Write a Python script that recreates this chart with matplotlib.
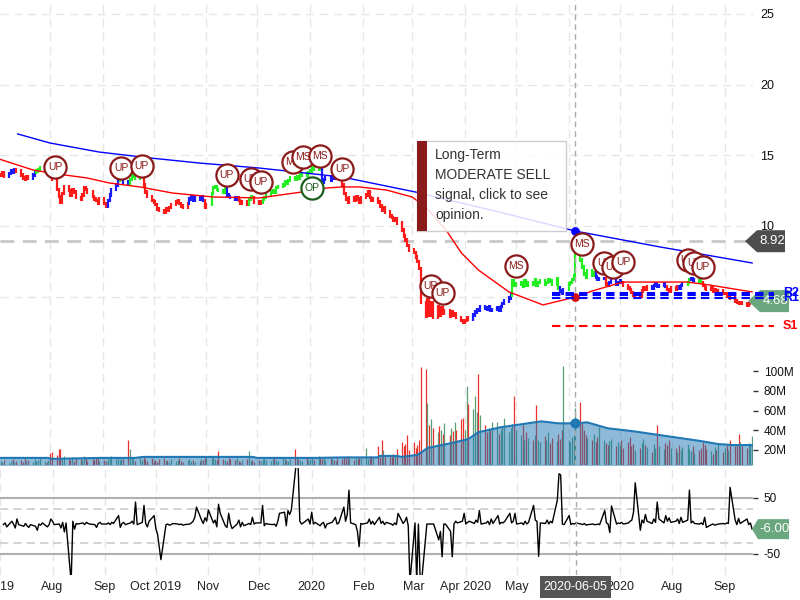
import matplotlib
matplotlib.use('Agg')
import matplotlib.pyplot as plt
import matplotlib.dates as mdates
from matplotlib.patches import Rectangle, Polygon
import numpy as np
import pandas as pd

plt.rcParams['font.family'] = ['Liberation Sans', 'DejaVu Sans']
plt.rcParams['axes.unicode_minus'] = False

# daily closes, one line per month (Jul 2019 .. Sep 2020)
close = [
    13.6, 13.8, 13.5, 13.7, 13.9, 13.8, 14.0, 13.9, 13.6, 13.4, 13.3, 13.5, 13.4, 13.6, 13.8, 13.9, 14.0, 14.1, 14.2, 14.0, 14.1,
    13.9, 13.3, 12.6, 12.1, 11.7, 12.3, 12.8, 12.5, 12.2, 12.6, 12.4, 12.0, 11.9, 12.2, 12.7, 12.6, 12.4, 12.1, 11.9, 11.8, 11.6, 11.9,
    11.6, 11.4, 11.8, 12.2, 12.6, 12.9, 13.2, 13.5, 13.6, 13.1, 13.0, 13.3, 13.5, 13.6, 13.4, 13.5, 13.6, 12.9, 12.4, 12.1, 11.8,
    11.7, 11.5, 11.2, 11.1, 11.0, 11.2, 11.1, 11.3, 11.5, 11.7, 11.8, 11.6, 11.4, 11.3, 11.6, 11.9, 12.1, 11.8, 12.0, 11.9, 12.1, 11.8, 11.3,
    11.5, 12.3, 12.7, 12.8, 12.6, 12.5, 12.4, 12.7, 12.2, 12.1, 12.0, 11.9, 12.0, 11.8, 11.6, 11.7, 11.5, 11.9, 12.1, 12.0, 11.7,
    11.6, 11.7, 11.9, 12.0, 12.2, 12.4, 12.5, 12.4, 12.7, 12.8, 12.9, 13.1, 13.0, 13.2, 13.4, 13.3, 13.5, 13.4, 13.6, 13.7, 13.6, 13.8,
    13.9, 14.1, 14.0, 14.2, 14.0, 13.1, 13.3, 13.4, 13.2, 13.5, 13.4, 13.6, 13.5, 12.9, 12.3, 11.9, 11.7, 12.0, 11.8, 12.1, 11.9, 11.7, 12.0,
    12.2, 12.4, 12.0, 11.8, 11.9, 11.7, 11.4, 11.1, 11.3, 11.0, 10.7, 10.6, 10.4, 10.5, 10.2, 9.7, 9.3, 9.0, 8.6, 8.3,
    8.1, 7.8, 7.5, 7.0, 4.6, 3.6, 4.8, 3.7, 4.6, 3.5, 4.3, 3.7, 4.2, 3.8, 4.0, 3.6, 3.9, 3.7, 3.8, 3.5, 3.3, 3.2,
    3.3, 3.5, 3.4, 3.7, 3.9, 4.1, 4.0, 4.3, 4.2, 4.1, 4.3, 4.0, 4.1, 4.2, 4.0, 4.3, 4.5, 4.7, 4.9, 5.1, 6.1, 5.8,
    5.9, 6.0, 5.7, 6.1, 5.8, 6.0, 5.9, 6.2, 5.8, 6.0, 6.1, 5.9, 6.0, 6.2, 6.1, 5.9, 6.3, 5.6, 5.4, 5.2, 5.5,
    5.9, 6.0, 6.2, 6.5, 8.0, 7.6, 7.1, 6.6, 6.4, 6.8, 6.5, 6.7, 6.4, 6.2, 6.3, 6.3, 5.9, 5.8, 6.0, 6.1, 5.9, 6.0,
    6.1, 6.0, 5.8, 5.6, 5.5, 5.3, 5.1, 5.2, 5.0, 5.4, 5.6, 5.5, 5.7, 5.6, 5.8, 5.9, 5.7, 5.8, 5.9, 5.7, 5.5, 5.4, 5.6,
    5.5, 5.7, 5.6, 5.8, 5.9, 6.0, 6.2, 6.3, 6.1, 6.2, 6.1, 6.0, 5.8, 5.6, 5.5, 5.6, 5.4, 5.5, 5.3, 5.4, 5.2,
    5.2, 5.0, 5.1, 4.9, 4.7, 4.6, 4.5, 4.6, 4.5, 4.4, 4.5, 4.6, 4.68,
]

# trend colour of each bar as (colour, number of days)
trend_runs = [
    ('r', 3), ('b', 4), ('r', 6), ('b', 2), ('g', 3), ('b', 1), ('g', 2),
    ('g', 1), ('r', 21),
    ('r', 2), ('b', 5), ('g', 2), ('b', 2), ('g', 6), ('r', 4),
    ('r', 15), ('b', 7), ('r', 1),
    ('r', 1), ('g', 7), ('b', 5), ('r', 4), ('g', 3), ('r', 1),
    ('r', 2), ('g', 20),
    ('g', 5), ('b', 8), ('r', 10),
    ('r', 20),
    ('r', 22),
    ('r', 3), ('b', 17), ('g', 2),
    ('g', 18), ('b', 3),
    ('g', 12), ('b', 4), ('r', 2), ('b', 4),
    ('b', 2), ('r', 11), ('b', 7), ('r', 3),
    ('r', 2), ('b', 3), ('g', 2), ('b', 3), ('g', 2), ('r', 9),
    ('r', 13),
]

# daily volume in millions
volume = [
    9, 8, 10, 7, 9, 11, 8, 9, 10, 8, 12, 9, 10, 8, 11, 9, 10, 12, 9, 8, 10,
    17, 18, 15, 21, 21, 12, 14, 11, 10, 13, 9, 12, 11, 10, 14, 12, 9, 11, 10, 13, 12, 9,
    10, 9, 11, 12, 14, 11, 13, 10, 12, 11, 30, 21, 13, 11, 9, 12, 10, 14, 11, 9, 12,
    9, 10, 8, 11, 12, 9, 10, 8, 11, 9, 10, 12, 9, 8, 10, 11, 9, 10, 8, 9, 11, 10, 12,
    12, 12, 14, 11, 10, 19, 11, 10, 9, 12, 11, 10, 12, 9, 8, 10, 11, 19, 9, 10, 8,
    10, 9, 11, 12, 10, 9, 11, 13, 10, 9, 12, 11, 10, 9, 11, 21, 12, 11, 10, 9, 12, 10,
    11, 12, 10, 14, 12, 11, 13, 10, 12, 11, 10, 9, 12, 11, 13, 12, 14, 11, 10, 12, 11, 13, 12,
    22, 11, 13, 14, 12, 24, 13, 30, 20, 15, 14, 13, 16, 14, 21, 28, 24, 26, 35, 20,
    28, 22, 25, 30, 104, 102, 68, 45, 51, 42, 38, 44, 40, 36, 47, 35, 42, 39, 48, 40, 51, 52,
    40, 85, 67, 62, 75, 58, 97, 55, 45, 38, 42, 40, 48, 48, 36, 40, 44, 52, 38, 42, 46, 75,
    40, 35, 45, 30, 38, 32, 30, 35, 66, 30, 28, 34, 30, 38, 27, 32, 29, 36, 31, 40, 105,
    30, 28, 33, 35, 63, 69, 47, 40, 35, 32, 30, 36, 28, 33, 43, 30, 27, 25, 29, 31, 24, 28,
    25, 30, 22, 28, 33, 24, 26, 20, 22, 27, 31, 25, 23, 18, 26, 22, 45, 24, 21, 27, 25, 30, 22,
    22, 18, 25, 20, 23, 26, 21, 19, 24, 17, 20, 22, 28, 25, 21, 19, 16, 23, 20, 26, 18,
    22, 25, 20, 30, 24, 26, 36, 28, 24, 22, 27, 25, 34,
]

# oscillator (bottom panel)
osc = [
    2, 5, -2, 8, 3, -4, 12, 2, -1, 4, 0, -3, 2, -1, -8, 3, 1, 5, -2, 2, 12,
    8, 2, 3, -4, 6, -11, 5, -100, 8, -6, 4, 3, 5, 2, 6, 4, 3, 2, -3, 4, 6, 3,
    3, 5, 2, 6, 4, 18, -3, 4, 6, 2, 5, 8, 3, 42, 2, 6, 36, 4, -2, 8, 18,
    -5, -15, -37, -60, 2, 3, 1, 2, 4, 3, 2, 3, 1, 2, 3, 5, 8, 15, 33, 10, 4, 14, 8,
    28, 5, 10, -2, 38, 22, 0, -3, 22, 4, -5, 3, 10, -2, 6, 0, 4, 2, 15, 3, 5,
    5, 36, 0, 4, 3, 2, 3, -1, 8, 22, 24, 0, 27, 20, 28, 115, 105, 8, 3, 5, 12, 3,
    24, 3, 6, 0, 4, 6, -4, 3, 6, 10, 15, 3, 5, 33, 8, 20, 63, 5, 2, -10, -37, 4, 3,
    5, 12, 3, 8, 2, 15, 4, 8, 2, 6, 3, 1, 5, 2, 22, 4, 8, 15, 0, -100,
    5, -100, 3, -90, -95, 3, 3, 3, 3, 3, -25, -10, -55, 3, 3, -10, -55, 3, 8, 5, 8, 22,
    3, 6, 8, 4, 10, 6, 27, 3, 5, 8, 2, 12, 4, 18, 3, 6, 5, 8, 22, 5, 8, 22,
    3, 5, 2, 8, 3, 6, 36, 10, 8, -54, 5, 4, 10, 3, 8, 5, 45, 92, 90, 3, 2,
    18, 2, 4, 3, 5, 3, 2, 4, 1, 2, 3, 2, 2, 3, 2, 27, 5, 3, -12, 35, 3, 5,
    4, 6, 3, 5, 8, 10, 24, 76, -8, 10, 5, 20, 8, 4, 12, 6, 42, 12, 5, 18, 8, 14, 6,
    8, 12, 4, 15, 6, 10, 63, 5, 8, 4, 3, 5, 2, 15, -3, 2, 3, 1, 2, 3, 4,
    3, 5, 4, 68, 10, 2, 13, 4, 6, 12, 2, 5, -6,
]

red_ma_dates = ['2019-07-02', '2019-07-22', '2019-08-01', '2019-08-23', '2019-09-05', '2019-09-23',
                '2019-10-12', '2019-11-05', '2019-12-02', '2019-12-27', '2020-01-11', '2020-01-20',
                '2020-01-30', '2020-02-15', '2020-03-01', '2020-03-09', '2020-03-21', '2020-03-30',
                '2020-04-09', '2020-04-27', '2020-05-17', '2020-06-05', '2020-06-15', '2020-07-03',
                '2020-08-10', '2020-08-23', '2020-09-17']
red_ma = [14.74, 13.96, 13.75, 13.39, 13.04, 12.76, 12.33, 12.05, 11.98, 12.40, 12.69, 12.76,
          12.76, 12.54, 12.05, 11.34, 9.71, 8.09, 6.88, 5.33, 4.41, 4.97, 5.40, 6.03,
          6.03, 5.82, 5.33]

blue_ma_dates = ['2019-07-13', '2019-08-01', '2019-08-30', '2019-09-29', '2019-10-28', '2019-12-02',
                 '2020-01-20', '2020-03-03', '2020-04-21', '2020-06-05', '2020-07-25', '2020-09-17']
blue_ma = [16.51, 15.87, 15.23, 14.81, 14.45, 14.10, 13.46, 12.40, 10.99, 9.64, 8.51, 7.38]

vol_ma_dates = ['2019-07-02', '2019-07-31', '2019-08-02', '2019-08-30', '2019-09-20', '2019-09-25',
                '2019-10-22', '2019-11-08', '2019-11-28', '2019-12-01', '2020-01-05', '2020-01-20',
                '2020-02-10', '2020-02-11', '2020-02-21', '2020-02-24', '2020-03-04', '2020-03-06',
                '2020-03-10', '2020-03-24', '2020-04-03', '2020-04-09', '2020-04-22', '2020-04-30',
                '2020-05-16', '2020-05-26', '2020-06-05', '2020-06-12', '2020-06-24', '2020-07-09',
                '2020-08-06', '2020-08-18', '2020-08-28', '2020-09-06', '2020-09-17']
vol_ma = [12, 12, 11, 12, 12, 13, 13, 13, 13, 12, 12, 12.5, 12.5, 14, 14, 13, 15, 17,
          22, 27, 31, 38, 43, 45, 49, 47, 47, 48, 42, 39, 32, 29, 26, 25, 25]

# signal bubbles
ev_dates = ['2019-08-04', '2019-09-12', '2019-09-24', '2019-11-13', '2019-11-27', '2019-12-03',
            '2019-12-22', '2019-12-28', '2020-01-07', '2020-01-02', '2020-01-20', '2020-03-12',
            '2020-03-19', '2020-05-01', '2020-06-09', '2020-06-22', '2020-06-27', '2020-07-03',
            '2020-08-10', '2020-08-14', '2020-08-19']
ev_prices = [14.17, 14.10, 14.24, 13.60, 13.32, 13.11, 14.53, 14.88, 14.95, 12.69, 14.03, 5.75,
             5.25, 7.17, 8.72, 7.38, 7.10, 7.45, 7.59, 7.38, 7.10]
ev_labels = ['UP', 'UP', 'UP', 'UP', 'UP', 'UP', 'MS', 'MS', 'MS', 'OP', 'UP', 'UP',
             'UP', 'MS', 'MS', 'UP', 'UP', 'UP', 'UP', 'UP', 'UP']

r_levels = [5.28, 5.09, 4.88]
s_level = 2.92
cursor_date = '2020-06-05'
cursor_price = 8.92
last_price = 4.68
last_osc = -6.00

# the June label sits under the cursor date box, so it is left blank
month_labels = ['2019', 'Aug', 'Sep', 'Oct 2019', 'Nov', 'Dec', '2020', 'Feb', 'Mar',
                'Apr 2020', 'May', '', '2020', 'Aug', 'Sep']
tooltip_lines = ['Long-Term', 'MODERATE SELL', 'signal, click to see', 'opinion.']

dates = pd.bdate_range('2019-07-03', '2020-09-17')
trend = ''.join(c * n for c, n in trend_runs)
if not (len(close) == len(volume) == len(osc) == len(trend) == len(dates)):
    raise ValueError((len(close), len(volume), len(osc), len(trend), len(dates)))

x = mdates.date2num(dates)
close = np.array(close)
prev = np.r_[close[0], close[:-1]]

W, H = 800, 600
fig = plt.figure(figsize=(8, 6), dpi=100)
fig.patch.set_facecolor('white')


def px_axes(top, bottom):
    return fig.add_axes([0, 1 - bottom / H, 753 / W, (bottom - top) / H])


ax_p = px_axes(0, 360)
ax_v = px_axes(362, 465)
ax_o = px_axes(468, 575)

aug1 = mdates.date2num(pd.Timestamp('2019-08-01'))
months = pd.date_range('2019-07-01', '2020-09-01', freq='MS')
cx = mdates.date2num(pd.Timestamp(cursor_date))
grid_ls = (0, (6, 4))

for ax in (ax_p, ax_v, ax_o):
    ax.set_xlim(aug1 - 50 / 1.7, aug1 + 703 / 1.7)
    for s in ax.spines.values():
        s.set_visible(False)
    ax.set_facecolor('none')
    for m in months:
        ax.axvline(m, color='#e6e6e6', lw=1, ls=grid_ls, zorder=0)
    ax.axvline(cx, color='#aaaaaa', lw=1, ls=(0, (4, 3)), zorder=6)
    ax.yaxis.tick_right()

# ---- price panel
ax_p.set_ylim(25 - 346 / 14.13, 25 + 14 / 14.13)
for v in [5, 10, 15, 20, 25]:
    ax_p.axhline(v, color='#e6e6e6', lw=1, ls=grid_ls, zorder=0)
ax_p.set_yticks([10, 15, 20, 25])
ax_p.tick_params(axis='y', length=0, pad=5, labelsize=9, labelcolor='#111111')
ax_p.set_xticks([])

bar_col = {'r': '#ff1a1a', 'g': '#22ee22', 'b': '#1a1aff'}
ax_p.vlines(x, np.minimum(prev, close) - 0.12, np.maximum(prev, close) + 0.12,
            colors=[bar_col[c] for c in trend], lw=1.6, zorder=2)
ax_p.plot(pd.to_datetime(red_ma_dates), red_ma, color='#ff0000', lw=1, zorder=3)
ax_p.plot(pd.to_datetime(blue_ma_dates), blue_ma, color='#0000ff', lw=1, zorder=3)

ax_p.axhline(cursor_price, color='#c8c8c8', lw=2, ls=(0, (5, 3)), zorder=1)
ax_p.scatter([cx], [red_ma[red_ma_dates.index(cursor_date)]], s=28, color='#d01010', zorder=7)
ax_p.scatter([cx], [blue_ma[blue_ma_dates.index(cursor_date)]], s=28, color='#0000ff', zorder=7)

rs_x = pd.to_datetime(['2020-05-22', '2020-09-30'])
for lv in r_levels:
    ax_p.plot(rs_x, [lv, lv], color='#0000ff', lw=1.5, ls=(0, (4, 2.5)), clip_on=False, zorder=9)
ax_p.plot(rs_x, [s_level, s_level], color='#ff0000', lw=1.5, ls=(0, (4, 2.5)), clip_on=False, zorder=9)
ytr = ax_p.get_yaxis_transform()
ax_p.text(783 / 753, r_levels[0], 'R2', transform=ytr, color='#0000ff', fontsize=9,
          fontweight='bold', va='center', clip_on=False, zorder=10)
ax_p.text(783 / 753, r_levels[-1], 'R1', transform=ytr, color='#0000ff', fontsize=9,
          fontweight='bold', va='center', clip_on=False, zorder=10)
ax_p.text(783 / 753, s_level, 'S1', transform=ytr, color='#ff0000', fontsize=9,
          fontweight='bold', va='center', clip_on=False, zorder=10)

for i, (d, p, lab) in enumerate(zip(ev_dates, ev_prices, ev_labels)):
    col = '#1a5e1a' if lab == 'OP' else '#8b1a1a'
    dn = mdates.date2num(pd.Timestamp(d))
    ax_p.scatter([dn], [p], s=255, facecolor='white', edgecolor=col, lw=1.6, zorder=11 + 2 * i)
    ax_p.text(dn, p, lab, ha='center', va='center', fontsize=7.5, color=col, zorder=12 + 2 * i)


def value_tag(ax, value, text, color, tip, left, right, half=11):
    y = ax.transData.transform((ax.get_xlim()[0], value))[1] / H
    h = half / H
    verts = [(tip / W, y), (left / W, y + h), (right / W, y + h), (right / W, y - h), (left / W, y - h)]
    ax.add_patch(Polygon(verts, closed=True, transform=fig.transFigure, facecolor=color,
                         edgecolor='none', clip_on=False, zorder=8))
    ax.text((left + right) / 2 / W + 1 / W, y, text, transform=fig.transFigure, color='white',
            fontsize=9.5, ha='center', va='center', clip_on=False, zorder=8.5)


value_tag(ax_p, cursor_price, f'{cursor_price:.2f}', '#4d4d4d', 745, 757, 785)
value_tag(ax_p, last_price, f'{last_price:.2f}', '#6aa67e', 748, 760, 789)

# ---- volume panel
ax_v.set_ylim(20 - 15 / 0.9875, 100 + 9 / 0.9875)
vcol = ['#e8322a' if c < p else '#5a9e78' for c, p in zip(close, prev)]
ax_v.vlines(x, 0, volume, colors=vcol, lw=0.9, zorder=2)
vx = pd.to_datetime(vol_ma_dates)
ax_v.fill_between(vx, 0, vol_ma, color='#1f77b4', alpha=0.5, lw=0, zorder=3)
ax_v.plot(vx, vol_ma, color='#1f77b4', lw=1.5, zorder=4)
ax_v.scatter([cx], [vol_ma[vol_ma_dates.index(cursor_date)]], s=40, color='#1f77b4', zorder=7)
ax_v.set_yticks([20, 40, 60, 80, 100])
ax_v.set_yticklabels(['20M', '40M', '60M', '80M', '100M'])
ax_v.tick_params(axis='y', length=3.6, width=1, color='#333333', pad=4, labelsize=8.5,
                 labelcolor='#111111')
ax_v.set_xticks([])

# ---- oscillator panel
ax_o.set_ylim(-(575 - 525.75) / 0.565, (525.75 - 468) / 0.565)
ax_o.axhline(50, color='#b0b0b0', lw=1.5, zorder=1)
ax_o.axhline(-50, color='#b0b0b0', lw=1.5, zorder=1)
ax_o.axhline(30, color='#cccccc', lw=1.2, ls=(0, (5, 3)), zorder=1)
ax_o.axhline(-30, color='#cccccc', lw=1.2, ls=(0, (5, 3)), zorder=1)
ax_o.plot(x, osc, color='black', lw=1, zorder=3)
ax_o.set_yticks([-50, 50])
ax_o.tick_params(axis='y', length=3.6, width=1, color='#333333', pad=4, labelsize=8.5,
                 labelcolor='#111111')
ax_o.set_xticks(months)
ax_o.set_xticklabels(month_labels)
ax_o.tick_params(axis='x', length=0, pad=4, labelsize=9, labelcolor='#222222')
value_tag(ax_o, last_osc, f'{last_osc:.2f}', '#6aa67e', 752, 758, 789, half=10)

# cursor date box on the x axis
fig.add_artist(Rectangle((540 / W, 1 - 598 / H), 71 / W, 22 / H, transform=fig.transFigure,
                         facecolor='#555555', edgecolor='none', zorder=5))
fig.text(575.5 / W, 1 - 587 / H, cursor_date, color='white', fontsize=9, ha='center',
         va='center', zorder=6)

# tooltip
fig.add_artist(Rectangle((417 / W, 1 - 231 / H), 149 / W, 90 / H, transform=fig.transFigure,
                         facecolor='white', alpha=0.85, edgecolor='none', zorder=20))
fig.add_artist(Rectangle((417 / W, 1 - 231 / H), 149 / W, 90 / H, transform=fig.transFigure,
                         facecolor='none', edgecolor='#cccccc', lw=1, zorder=21))
fig.add_artist(Rectangle((417 / W, 1 - 231 / H), 10 / W, 90 / H, transform=fig.transFigure,
                         facecolor='#8b1a1a', edgecolor='none', zorder=22))
for i, line in enumerate(tooltip_lines):
    fig.text(435 / W, 1 - (155 + 20 * i) / H, line, fontsize=10, color='#333333',
             va='center', ha='left', zorder=23)

fig.savefig('out.png', dpi=100)
